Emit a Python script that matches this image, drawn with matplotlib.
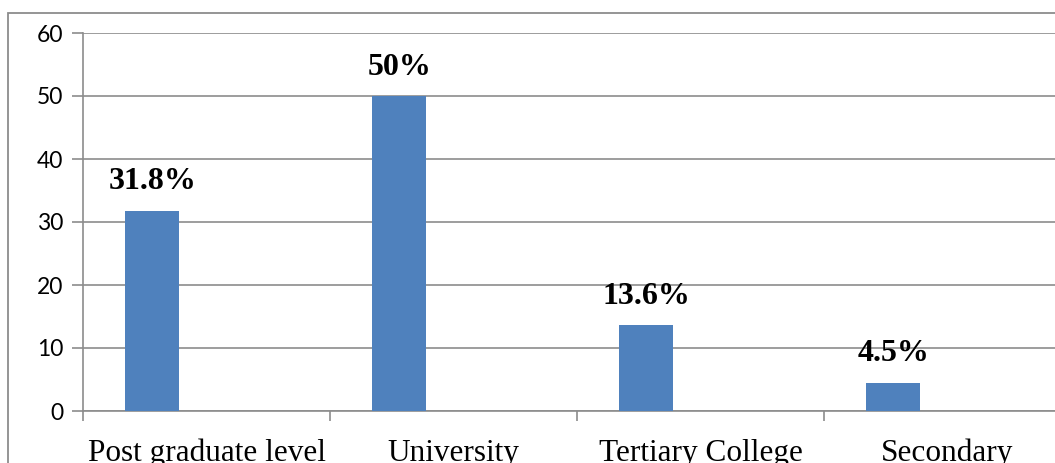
import matplotlib
matplotlib.use("Agg")
import matplotlib.pyplot as plt
from matplotlib.patches import Rectangle

categories = ["Post graduate level", "University", "Tertiary College", "Secondary"]
values = [31.8, 50, 13.6, 4.5]
labels = ["31.8%", "50%", "13.6%", "4.5%"]
yticks = [0, 10, 20, 30, 40, 50, 60]

W, H = 1055, 463
fig = plt.figure(figsize=(W / 100, H / 100), dpi=100)
fig.patches.append(Rectangle((8 / W, -0.1), 1.2, 1 - 13 / H + 0.1, transform=fig.transFigure,
                             fill=False, edgecolor="#8c8c8c", linewidth=1.3))

left, right, top, bottom = 83, 1071, 33, 411
ax = fig.add_axes([left / W, 1 - bottom / H, (right - left) / W, (bottom - top) / H])
ax.set_facecolor("none")

xs = [i - 0.22 for i in range(len(categories))]
ax.bar(xs, values, width=0.22, color="#4F81BD", zorder=3)
for x, v, t in zip(xs, values, labels):
    ax.text(x, v + 2.3, t, ha="center", va="bottom", fontsize=23, fontweight="bold",
            family="Liberation Serif", zorder=4)

ax.set_xlim(-0.5, len(categories) - 0.5)
ax.set_ylim(0, 60)
ax.set_yticks(yticks)
ax.set_yticklabels([str(t) for t in yticks], family="Lato", fontsize=16.5)
ax.yaxis.grid(True, color="#8c8c8c", linewidth=1.2, zorder=0)
ax.tick_params(axis="y", length=8, color="#8c8c8c", width=1.2, pad=6)

ax.set_xticks([i - 0.5 for i in range(len(categories) + 1)])
ax.set_xticklabels([])
ax.set_xticks(range(len(categories)), minor=True)
ax.set_xticklabels(categories, minor=True, family="Liberation Serif", fontsize=22.5)
ax.tick_params(axis="x", which="minor", length=0, pad=20)
ax.tick_params(axis="x", which="major", length=7, color="#8c8c8c", width=1.2)

for s in ["top", "right"]:
    ax.spines[s].set_visible(False)
for s in ["left", "bottom"]:
    ax.spines[s].set_color("#8c8c8c")
    ax.spines[s].set_linewidth(1.2)

fig.savefig("out.png", dpi=100)
